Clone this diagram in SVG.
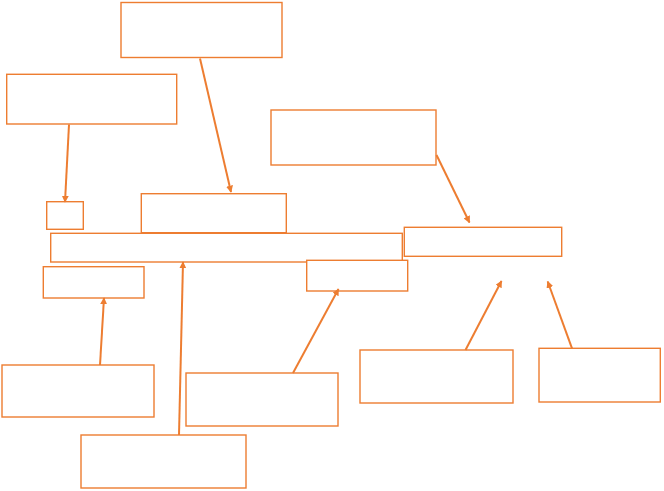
<svg xmlns="http://www.w3.org/2000/svg" width="664" height="491" viewBox="0 0 664 491">
<defs>
<style>
.n{fill:#ffffff;stroke:#ED7D31;stroke-width:1.4}
.c{fill:none;stroke:#ED7D31;stroke-width:2}
</style>
<marker id="ah" viewBox="0 0 10 10" refX="9" refY="5" markerWidth="3.5" markerHeight="3.5" orient="auto" markerUnits="strokeWidth">
<path d="M0,0 L10,5 L0,10 z" fill="#ED7D31"/>
</marker>
</defs>
<rect width="664" height="491" fill="#ffffff"/>
<g id="n1"><rect class="n" x="121" y="2.5" width="161" height="55"/></g>
<g id="n2"><rect class="n" x="6.7" y="74.3" width="170" height="49.7"/></g>
<g id="n3"><rect class="n" x="271" y="110" width="165" height="55"/></g>
<g id="n4"><rect class="n" x="46.7" y="201.7" width="36.6" height="27.6"/></g>
<g id="n5"><rect class="n" x="141.3" y="193.7" width="145" height="39"/></g>
<g id="n6"><rect class="n" x="50.7" y="233.3" width="351.6" height="28.7"/></g>
<g id="n7"><rect class="n" x="43.3" y="266.7" width="100.7" height="31.3"/></g>
<g id="n8"><rect class="n" x="306.7" y="260.3" width="101" height="30.7"/></g>
<g id="n9"><rect class="n" x="404.3" y="227.3" width="157.4" height="29"/></g>
<g id="n10"><rect class="n" x="2" y="365" width="152" height="52"/></g>
<g id="n11"><rect class="n" x="81" y="435" width="165" height="53"/></g>
<g id="n12"><rect class="n" x="186" y="373" width="152" height="53"/></g>
<g id="n13"><rect class="n" x="360" y="350" width="153" height="53"/></g>
<g id="n14"><rect class="n" x="539" y="348.3" width="121.3" height="53.7"/></g>
<g id="connectors">
<line class="c" x1="200" y1="58.5" x2="231" y2="192" marker-end="url(#ah)"/>
<line class="c" x1="69" y1="124.5" x2="65" y2="202" marker-end="url(#ah)"/>
<line class="c" x1="436.5" y1="155" x2="469.5" y2="222.5" marker-end="url(#ah)"/>
<line class="c" x1="100" y1="365" x2="104" y2="298" marker-end="url(#ah)"/>
<line class="c" x1="179" y1="435" x2="183" y2="262" marker-end="url(#ah)"/>
<line class="c" x1="293" y1="373" x2="338.5" y2="289" marker-end="url(#ah)"/>
<line class="c" x1="465.5" y1="350" x2="501.5" y2="281" marker-end="url(#ah)"/>
<line class="c" x1="572" y1="348.3" x2="547.7" y2="281.5" marker-end="url(#ah)"/>
</g>
</svg>
